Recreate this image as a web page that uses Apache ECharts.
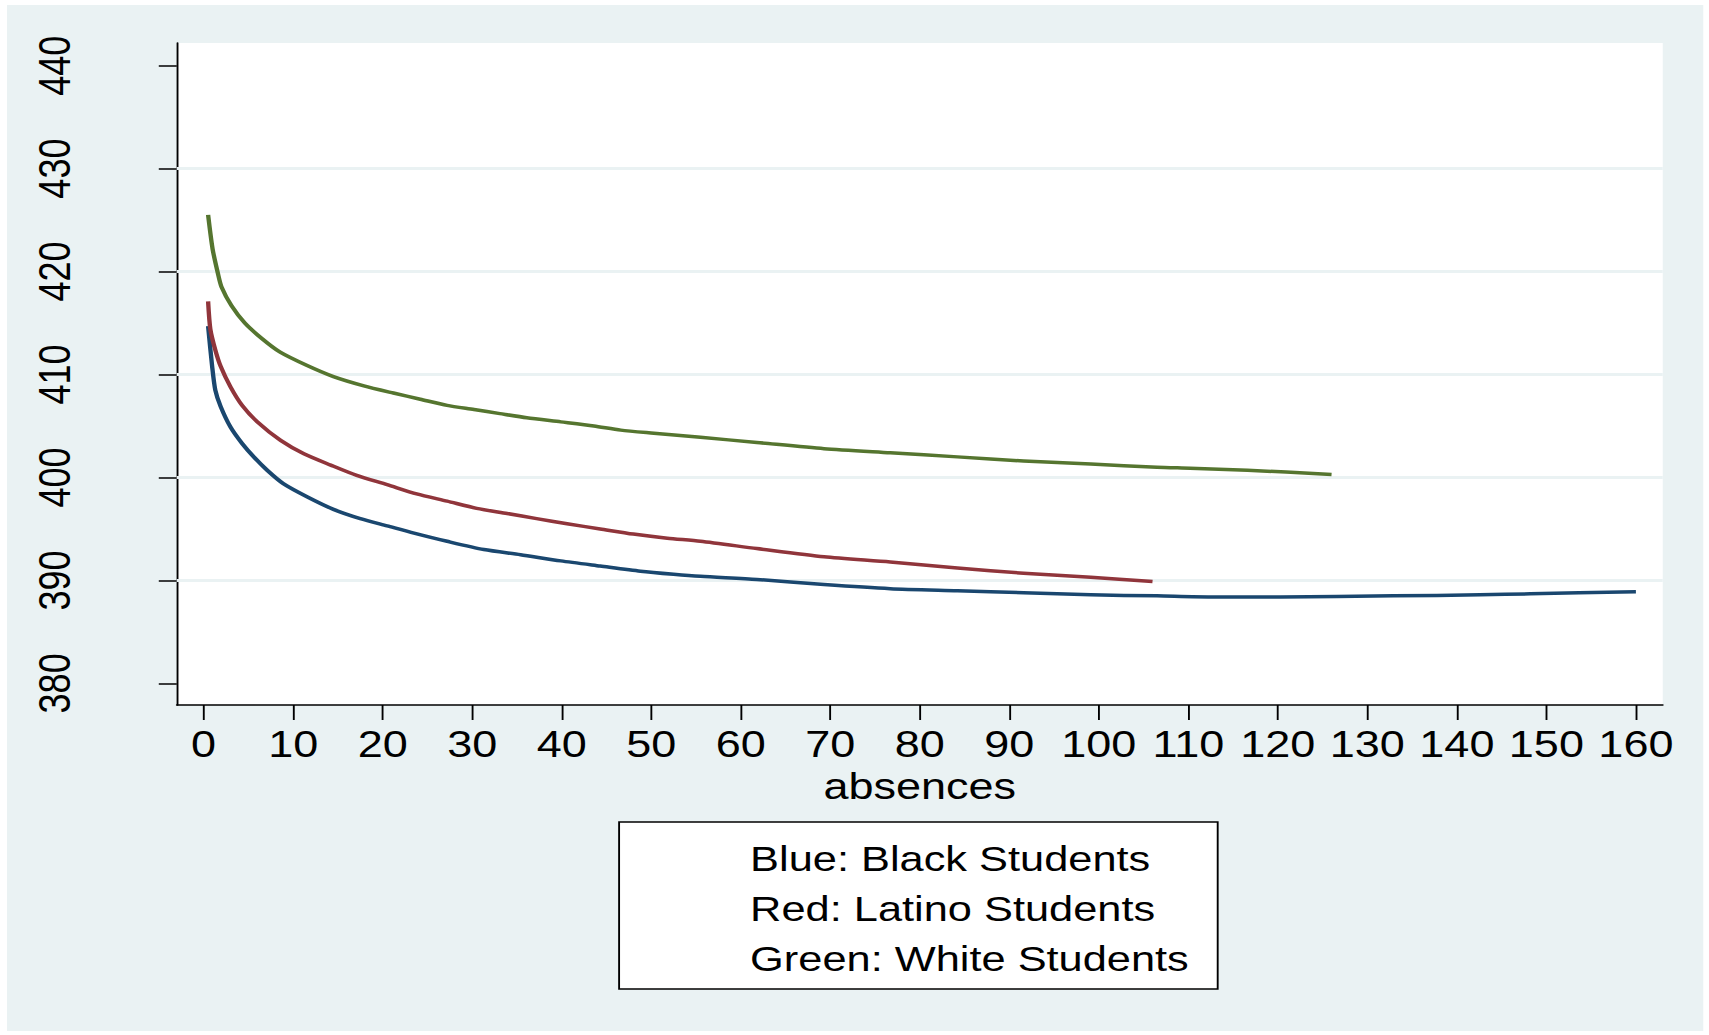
<!DOCTYPE html>
<html>
<head>
<meta charset="utf-8">
<title>Predicted scores by absences</title>
<script src="https://cdn.jsdelivr.net/npm/echarts@6/dist/echarts.min.js"></script>
<style>
  html, body { margin: 0; padding: 0; background: #ffffff; overflow: hidden; }
  /* The figure is laid out on a narrower canvas and widened horizontally */
  #chart { width: 1367px; height: 1035px; transform: scaleX(1.2502); transform-origin: 0 0; }
</style>
</head>
<body>
<div id="chart"></div>
<script>
// Black students (blue)
const blackAbsences = [0.5, 0.95, 1.3, 1.9, 3.0, 4.3, 5.6, 7.1, 8.9, 11.6, 14.5, 17.5, 20.5, 23.5, 27.2, 31.3, 35.4, 39.9, 44.3, 48.8, 52.5, 55.5, 61.8, 69.3, 76.7, 84.2, 91.6, 99.1, 106.5, 112.5, 120.3, 132.9, 142.6, 148.2, 160];
const blackScores   = [414.7, 410.8, 408.5, 406.9, 404.9, 403.3, 402.0, 400.7, 399.4, 398.1, 396.9, 396.0, 395.3, 394.6, 393.8, 393.0, 392.5, 391.9, 391.4, 390.9, 390.6, 390.4, 390.1, 389.6, 389.2, 389.0, 388.8, 388.6, 388.5, 388.4, 388.4, 388.5, 388.6, 388.7, 388.9];

// Latino students (red)
const latinoAbsences = [0.5, 0.75, 1.3, 1.9, 3.0, 4.3, 6.0, 8.6, 11.2, 14.2, 17.1, 20.5, 23.8, 27.2, 30.5, 33.9, 37.2, 40.6, 44.3, 48.0, 51.8, 55.5, 61.8, 69.3, 76.7, 84.2, 91.6, 99.1, 106];
const latinoScores   = [417.1, 414.4, 412.4, 410.8, 408.8, 407.0, 405.4, 403.6, 402.3, 401.2, 400.2, 399.3, 398.4, 397.7, 397.0, 396.5, 396.0, 395.5, 395.0, 394.5, 394.1, 393.8, 393.1, 392.3, 391.8, 391.2, 390.7, 390.3, 389.9];

// White students (green)
const whiteAbsences = [0.5, 1.0, 1.6, 2.0, 3.1, 4.6, 6.5, 8.5, 11.5, 14.5, 17.9, 21.2, 24.2, 27.2, 30.2, 33.1, 36.1, 39.9, 43.6, 46.6, 50.3, 55.5, 61.8, 69.3, 76.7, 84.2, 91.6, 99.1, 106.5, 110.2, 116.6, 126];
const whiteScores   = [425.5, 422.2, 419.8, 418.5, 416.7, 415.0, 413.5, 412.2, 410.9, 409.8, 408.9, 408.2, 407.6, 407.0, 406.6, 406.2, 405.8, 405.4, 405.0, 404.6, 404.3, 403.9, 403.4, 402.8, 402.4, 402.0, 401.6, 401.3, 401.0, 400.9, 400.7, 400.3];

// Axis ticks and grid lines
const xTicks = [0, 10, 20, 30, 40, 50, 60, 70, 80, 90, 100, 110, 120, 130, 140, 150, 160];
const yTicks = [380, 390, 400, 410, 420, 430, 440];
const gridValues = [390, 400, 410, 420, 430];

const noteLines = ['Blue: Black Students', 'Red: Latino Students', 'Green: White Students'];

const FONT = "'Liberation Sans', Arial, Helvetica, sans-serif";
const PANEL = '#eaf2f3';

function zip(xs, ys) { return xs.map((x, i) => [x, ys[i]]); }

function lineSeries(name, xs, ys, color) {
  return {
    name: name,
    type: 'line',
    data: zip(xs, ys),
    showSymbol: false,
    smooth: 0.25,
    lineStyle: { color: color, width: 3.5, join: 'round', cap: 'butt' },
    itemStyle: { color: color },
    z: 3
  };
}

const chart = echarts.init(document.getElementById('chart'), null, { renderer: 'svg' });

const option = {
  animation: false,
  backgroundColor: '#ffffff',
  textStyle: { fontFamily: FONT },
  grid: {
    left: 141.4, right: 37, top: 43, bottom: 330,
    show: true, backgroundColor: '#ffffff', borderWidth: 0
  },
  xAxis: {
    type: 'value',
    min: -3, max: 163,
    name: 'absences',
    nameLocation: 'middle',
    nameGap: 68,
    nameMoveOverlap: false,
    nameTextStyle: { fontSize: 36, lineHeight: 28, color: '#000', fontFamily: FONT },
    axisLine: { show: true, onZero: false, lineStyle: { color: '#000', width: 1.5 } },
    axisTick: { show: true, length: 15, customValues: xTicks, lineStyle: { color: '#000', width: 1.5 } },
    axisLabel: { customValues: xTicks, fontSize: 36, lineHeight: 28, color: '#000', margin: 26, fontFamily: FONT },
    splitLine: { show: false }
  },
  yAxis: {
    type: 'value',
    min: 377.9, max: 442.2,
    axisLine: { show: true, onZero: false, lineStyle: { color: '#000', width: 1.5 } },
    axisTick: { show: true, length: 14.4, customValues: yTicks, lineStyle: { color: '#000', width: 1.5 } },
    axisLabel: { customValues: yTicks, fontSize: 36, color: '#000', margin: 80, rotate: 90, fontFamily: FONT },
    splitLine: { show: false }
  },
  graphic: [
    {
      type: 'rect', z: -100, silent: true,
      shape: { x: 5.6, y: 5, width: 1356.8, height: 1026 },
      style: { fill: PANEL }
    },
    {
      type: 'group', z: 100,
      children: [
        {
          type: 'rect',
          shape: { x: 495.2, y: 822, width: 478.8, height: 167 },
          style: { fill: '#ffffff', stroke: '#000000', lineWidth: 1.5 }
        }
      ].concat(noteLines.map((t, i) => ({
        type: 'text',
        x: 600, y: 858.5 + i * 50,
        style: { text: t, fill: '#000', font: '34.7px ' + FONT, textAlign: 'left', textVerticalAlign: 'middle' }
      })))
    }
  ],
  series: [
    {
      name: 'grid',
      type: 'line',
      data: [],
      z: 1,
      silent: true,
      markLine: {
        z: 1,
        silent: true,
        symbol: ['none', 'none'],
        label: { show: false },
        lineStyle: { color: PANEL, width: 3, type: 'solid' },
        data: gridValues.map(v => ({ yAxis: v }))
      }
    },
    lineSeries('Black Students', blackAbsences, blackScores, '#1a476f'),
    lineSeries('Latino Students', latinoAbsences, latinoScores, '#90353b'),
    lineSeries('White Students', whiteAbsences, whiteScores, '#55752f')
  ]
};

chart.setOption(option);
</script>
</body>
</html>
